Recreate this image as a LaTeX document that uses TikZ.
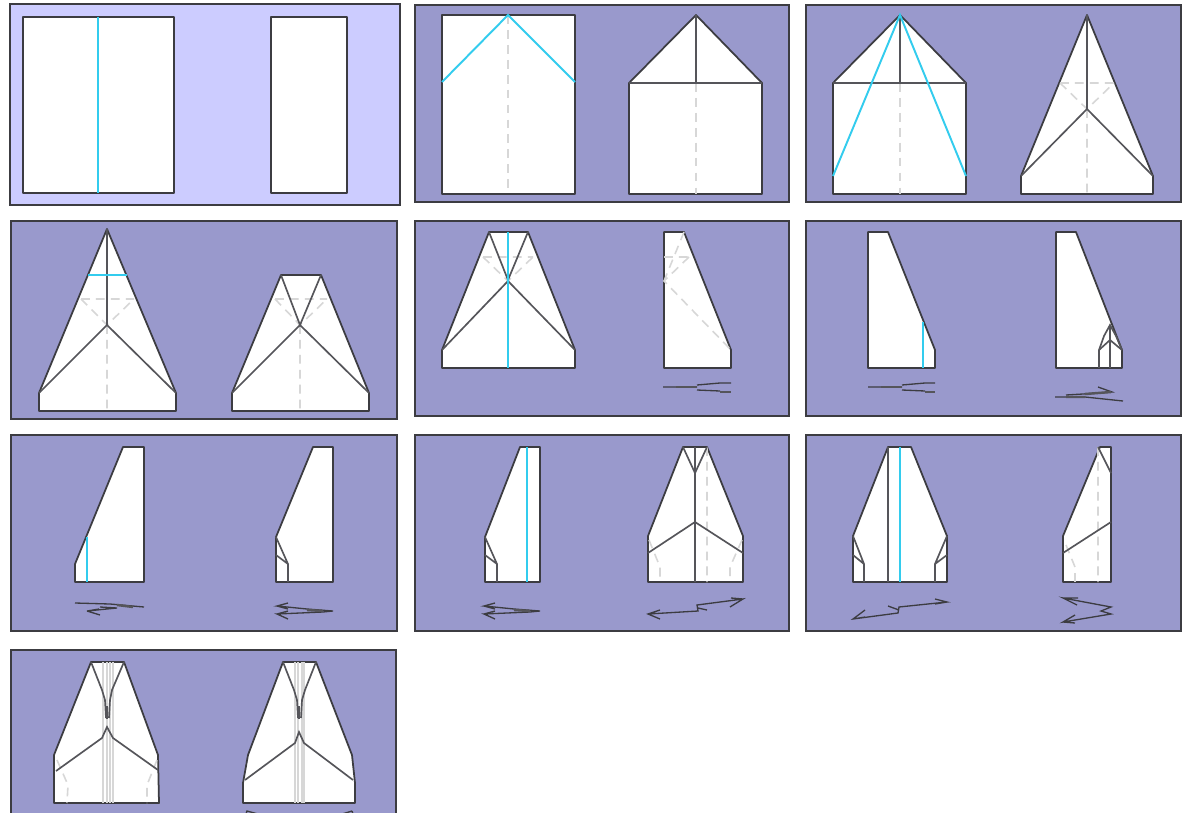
\documentclass[tikz,border=0pt]{standalone}
\definecolor{panelblue}{RGB}{153, 153, 204}
\definecolor{panellight}{RGB}{204, 204, 255}
\definecolor{foldcyan}{RGB}{51, 204, 238}
\definecolor{edgedark}{RGB}{60, 60, 65}
\definecolor{creasegrey}{RGB}{85, 85, 90}
\definecolor{hiddengrey}{RGB}{215, 215, 215}
\begin{document}
\begin{tikzpicture}[
        x=0.02cm, y=-0.02cm,
        panel/.style={draw=edgedark, line width=0.65pt, fill=panelblue},
        lightpanel/.style={panel, fill=panellight},
        sheet/.style={draw=edgedark, line width=1pt, fill=white, line join=round},
        crease/.style={draw=creasegrey, line width=0.95pt},
        hidden/.style={draw=hiddengrey, line width=0.9pt, dash pattern=on 5pt off 3.5pt},
        foldline/.style={draw=foldcyan, line width=1.1pt},
        through/.style={draw=hiddengrey, line width=0.75pt},
        sign/.style={draw=edgedark, line width=0.75pt},
        signbold/.style={draw=creasegrey, line width=1.4pt},
        base/.style={draw=edgedark, line width=1.4pt}
      ]
        \clip (0,0) rectangle (1187,812);

        % row 1
        \path[lightpanel] (10,4) rectangle (400,205);
        \path[sheet] (23,17) rectangle (174,193);
        \path[sheet] (271,17) rectangle (347,193);
        \path[foldline] (98,17) -- (98,193);

        \path[panel] (415,5) rectangle (789,202);
        \path[sheet] (442,15) rectangle (575,194);
        \path[hidden] (508,15) -- (508,194);
        \path[foldline] (442,82) -- (508,15) -- (575,82);
        \path[sheet] (629,83) -- (696,15) -- (762,83) -- (762,194) -- (629,194) -- cycle;
        \path[hidden] (696,83) -- (696,194);
        \path[crease] (629,83) -- (762,83) (696,15) -- (696,83);

        \path[panel] (806,5) rectangle (1181,202);
        \path[sheet] (833,83) -- (900,15) -- (966,83) -- (966,194) -- (833,194) -- cycle;
        \path[hidden] (900,83) -- (900,194);
        \path[crease] (833,83) -- (966,83) (900,15) -- (900,83);
        \path[foldline] (833,176) -- (900,15) -- (966,176);
        \path[sheet] (1087,15) -- (1153,176) -- (1153,194) -- (1021,194) -- (1021,176) -- cycle;
        \path[hidden] (1060,83) -- (1114,83) (1060,83) -- (1087,109) -- (1114,83) (1087,109) -- (1087,194);
        \path[crease] (1087,15) -- (1087,109) (1021,176) -- (1087,109) -- (1153,176);

        % row 2
        \path[panel] (11,221) rectangle (397,419);
        \path[base] (11,419) -- (397,419);
        \path[sheet] (107,229) -- (176,393) -- (176,411) -- (39,411) -- (39,393) -- cycle;
        \path[hidden] (81,299) -- (134,299) (81,299) -- (107,325) -- (134,299) (107,325) -- (107,411);
        \path[crease] (107,229) -- (107,325) (39,393) -- (107,325) -- (176,393);
        \path[foldline] (88,275) -- (127,275);
        \path[sheet] (281,275) -- (321,275) -- (369,393) -- (369,411) -- (232,411) -- (232,393) -- cycle;
        \path[hidden] (275,299) -- (327,299) (275,299) -- (300,325) -- (327,299) (300,325) -- (300,411);
        \path[crease] (281,275) -- (300,325) -- (321,275) (232,393) -- (300,325) -- (369,393);

        \path[panel] (415,221) rectangle (789,416);
        \path[sheet] (489,232) -- (528,232) -- (575,350) -- (575,368) -- (442,368) -- (442,350) -- cycle;
        \path[base] (442,368) -- (575,368);
        \path[hidden] (483,257) -- (533,257) (483,257) -- (508,281) -- (533,257);
        \path[crease] (489,232) -- (508,280) -- (528,232) (442,350) -- (508,281) -- (575,350);
        \path[foldline] (508,232) -- (508,368);
        \path[sheet] (664,232) -- (684,232) -- (731,350) -- (731,368) -- (664,368) -- cycle;
        \path[base] (664,368) -- (731,368);
        \path[hidden] (664,257) -- (689,257) (684,232) -- (664,281) (689,257) -- (664,281) -- (731,350);
        \path[sign] (663,387) -- (697,387) (697,385) -- (720,383) -- (731,383) (697,390) -- (720,391);
        \path[signbold] (676,387) -- (697,387) (720,392) -- (731,392);

        \path[panel] (806,221) rectangle (1181,416);
        \path[sheet] (868,232) -- (888,232) -- (935,350) -- (935,368) -- (868,368) -- cycle;
        \path[base] (868,368) -- (935,368);
        \path[foldline] (923,322) -- (923,368);
        \path[sign] (868,387) -- (902,387) (902,385) -- (925,383) -- (935,383) (902,390) -- (925,391);
        \path[signbold] (881,387) -- (902,387) (925,392) -- (935,392);
        \path[sheet] (1056,232) -- (1076,232) -- (1122,350) -- (1122,368) -- (1056,368) -- cycle;
        \path[base] (1056,368) -- (1122,368);
        \path[crease] (1110,325) -- (1110,368) (1099,350) -- (1099,368);
        \path[crease] (1099,350) -- (1104,336) -- (1110,325) -- (1116,336) -- (1122,350);
        \path[crease] (1099,350) -- (1110,340) -- (1122,350);
        \path[sign] (1055,397) -- (1085,397) -- (1123,401) (1066,395) -- (1100,393) -- (1112,392) -- (1098,387);
        \path[signbold] (1066,397) -- (1085,397) (1085,394) -- (1111,392);

        % row 3
        \path[panel] (11,435) rectangle (397,631);
        \path[sheet] (123,447) -- (144,447) -- (144,582) -- (75,582) -- (75,564) -- cycle;
        \path[foldline] (87,537) -- (87,582);
        \path[sign] (75,603) -- (110,604) -- (144,607) (100,607) -- (117,608) -- (87,611) -- (99,609) (87,611) -- (100,615);
        \path[signbold] (117,605) -- (133,607);
        \path[sheet] (313,447) -- (333,447) -- (333,582) -- (276,582) -- (276,537) -- cycle;
        \path[crease] (276,537) -- (288,564) -- (288,582) (276,555) -- (288,564);
        \path[sign] (333,611) -- (307,609) -- (277,606) -- (288,603) (277,606) -- (288,609) (333,611) -- (323,612) -- (277,614) -- (288,619) (277,614) -- (288,611);
        \path[signbold] (307,610) -- (323,611);

        \path[panel] (415,435) rectangle (789,631);
        \path[sheet] (520,447) -- (540,447) -- (540,582) -- (485,582) -- (485,537) -- cycle;
        \path[crease] (485,537) -- (497,564) -- (497,582) (485,555) -- (497,564);
        \path[foldline] (527,447) -- (527,582);
        \path[sign] (540,611) -- (514,609) -- (484,606) -- (495,603) (484,606) -- (495,609) (540,611) -- (530,612) -- (484,614) -- (495,619) (484,614) -- (495,611);
        \path[signbold] (514,610) -- (530,611);
        \path[sheet] (683,447) -- (707,447) -- (743,536) -- (743,582) -- (648,582) -- (648,536) -- cycle;
        \path[hidden] (707,447) -- (707,582) (649,540) -- (660,567) -- (660,582) (742,540) -- (730,567) -- (730,582);
        \path[crease] (695,447) -- (695,582) (683,447) -- (695,473) -- (707,447) (648,553) -- (695,522) -- (743,553);
        \path[sign] (660,610) -- (648,614) -- (660,619) (648,614) -- (698,611) -- (697,605) -- (743,599) -- (730,607) (743,599) -- (731,598) (698,608) -- (707,610);

        \path[panel] (806,435) rectangle (1181,631);
        \path[sheet] (888,447) -- (911,447) -- (947,536) -- (947,582) -- (853,582) -- (853,536) -- cycle;
        \path[crease] (888,447) -- (888,582) (853,536) -- (864,564) -- (864,582) (853,555) -- (864,564) (947,536) -- (935,564) -- (935,582) (947,555) -- (935,564);
        \path[foldline] (900,447) -- (900,582);
        \path[sign] (865,610) -- (853,619) -- (898,613) -- (899,607) -- (947,602) -- (935,599) (947,602) -- (935,604) (888,606) -- (899,610) (853,619) -- (865,617);
        \path[sheet] (1100,447) -- (1111,447) -- (1111,582) -- (1063,582) -- (1063,536) -- cycle;
        \path[hidden] (1098,447) -- (1098,582) (1066,545) -- (1075,567) -- (1075,582);
        \path[crease] (1098,447) -- (1111,473) (1063,553) -- (1111,522);
        \path[sign] (1077,605) -- (1063,598) -- (1111,607) -- (1101,611) -- (1111,614) -- (1063,622) -- (1075,615) (1063,622) -- (1075,623) (1063,598) -- (1078,598);

        % row 4
        \path[panel] (11,650) rectangle (396,830);
        \path[sheet] (91,662) -- (124,662) -- (158,755) -- (159,803) -- (54,803) -- (54,755) -- cycle;
        \path[through] (103,662) -- (103,803) (107,662) -- (107,803) (110,662) -- (110,803) (113,662) -- (113,803);
        \path[hidden] (57,760) -- (68,785) -- (67,803) (157,760) -- (147,785) -- (147,803);
        \path[crease] (91,662) -- (102,690) -- (105,700) -- (106,718) (124,662) -- (112,690) -- (110,700) -- (109,718);
        \path[crease] (56,771) -- (102,738) -- (107,727) -- (113,738) -- (158,770);
        \path[signbold] (107,706) -- (107,719);
        \path[sheet] (283,662) -- (316,662) -- (352,755) -- (355,783) -- (355,803) -- (243,803) -- (243,783) -- (248,755) -- cycle;
        \path[through] (295,662) -- (295,803) (298,662) -- (298,803) (302,662) -- (302,803) (304,662) -- (304,803);
        \path[crease] (283,662) -- (294,690) -- (297,700) -- (298,718) (316,662) -- (305,690) -- (302,700) -- (301,718);
        \path[crease] (245,780) -- (295,743) -- (299,732) -- (304,743) -- (353,780);
        \path[signbold] (299,706) -- (299,719);
        \path[sign] (246,814) -- (247,811) -- (258,814) (352,811) -- (342,814) (352,811) -- (353,814);
      \end{tikzpicture}
\end{document}
